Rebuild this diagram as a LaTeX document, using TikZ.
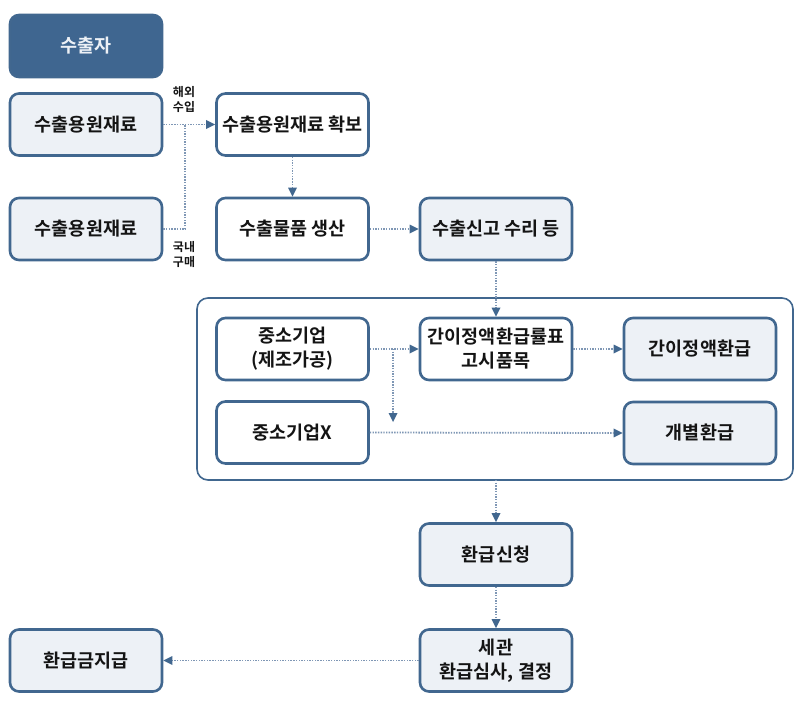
\documentclass[tikz,border=0pt]{standalone}
\usepackage{fontspec}
\setmainfont{Noto Sans CJK KR}[BoldFont={Noto Sans CJK KR Bold}]
\usetikzlibrary{arrows.meta}
\definecolor{bordc}{HTML}{41678F}
\definecolor{lightf}{HTML}{EDF1F6}
\definecolor{darkf}{HTML}{3F6690}
\definecolor{dotc}{HTML}{7F97B5}
\definecolor{txtc}{HTML}{141414}
\tikzset{
  box/.style={draw=bordc, line width=2.6pt, rounded corners=9pt, minimum width=152pt, minimum height=62pt, inner sep=0pt, align=center, font=\fontsize{18.5}{24}\selectfont\bfseries, text=txtc},
  wbox/.style={box, fill=white},
  lbox/.style={box, fill=lightf},
  dbox/.style={box, fill=darkf, text=lightf},
  flow/.style={draw=dotc, line width=1.8pt, dash pattern=on 1.4pt off 1.3pt},
  flowa/.style={flow, -{Triangle[length=9pt,width=9pt,color=bordc,line width=0pt]}},
  small/.style={font=\fontsize{12}{15}\selectfont\bfseries, text=txtc, align=center, inner sep=0pt}
}
\begin{document}
\begin{tikzpicture}[x=1pt,y=-1pt]
\useasboundingbox (0,0) rectangle (805,706);
\draw[draw=bordc, line width=1.6pt, rounded corners=11pt, fill=white] (197,298) rectangle (793,480);
\node[dbox] (exporter) at (86,46) {수출자};
\node[lbox] (mat1) at (86,124.5) {수출용원재료};
\node[lbox] (mat2) at (86,229) {수출용원재료};
\node[wbox] (secure) at (292.5,124.5) {수출용원재료 확보};
\node[wbox] (produce) at (292.5,229) {수출물품 생산};
\node[lbox] (declare) at (496,229) {수출신고 수리 등};
\node[wbox] (sme) at (292.5,349) {중소기업\\(제조가공)};
\node[wbox] (simple) at (496,349) {간이정액환급률표\\고시품목};
\node[lbox] (simplerefund) at (700,349) {간이정액환급};
\node[wbox] (smex) at (292.5,432.5) {중소기업X};
\node[lbox] (indiv) at (700,433) {개별환급};
\node[lbox] (apply) at (496,554.5) {환급신청};
\node[lbox] (customs) at (496,660.5) {세관\\환급심사, 결정};
\node[lbox] (pay) at (86,660.5) {환급금지급};
\coordinate (container) at (496,480);
\coordinate (junc) at (185,124.5);
\coordinate (j2) at (393,349);
\coordinate (j2end) at (393,422);
\node[small] (lab1) at (184,100) {해외\\수입};
\node[small] (lab2) at (184,255) {국내\\구매};
\draw[flowa] (mat1.east) -- (secure.west);
\draw[flow] (mat2.east) -| (junc);
\draw[flowa] (secure.south) -- (produce.north);
\draw[flowa] (produce.east) -- (declare.west);
\draw[flowa] (declare.south) -- (simple.north);
\draw[flowa] (sme.east) -- (simple.west);
\draw[flowa] (j2) -- (j2end);
\draw[flowa] (simple.east) -- (simplerefund.west);
\draw[flowa] (smex.east) -- (indiv.west);
\draw[flowa] (container) -- (apply.north);
\draw[flowa] (apply.south) -- (customs.north);
\draw[flowa] (customs.west) -- (pay.east);
\end{tikzpicture}
\end{document}
